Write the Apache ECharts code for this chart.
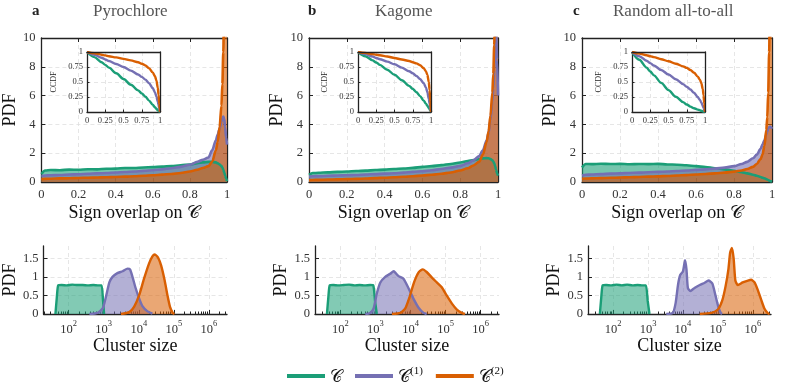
<!DOCTYPE html>
<html><head><meta charset="utf-8">
<script src="https://cdn.jsdelivr.net/npm/echarts@6/dist/echarts.min.js"></script>
<style>html,body{margin:0;padding:0;background:#fff}#c{width:789px;height:382px}</style>
</head><body><div id="c"></div>
<script>
// ---------- data ----------
const panelTitles = ['Pyrochlore', 'Kagome', 'Random all-to-all'];
const panelLetters = ['a', 'b', 'c'];
const seriesNames = ['C', 'C1', 'C2'];

const overlapX = [0,0.02,0.05,0.1,0.15,0.2,0.25,0.3,0.35,0.4,0.45,0.5,0.55,0.6,0.65,0.7,0.75,0.8,0.84,0.87,0.9,0.92,0.94,0.95,0.96,0.97,0.975,0.98,0.985,0.99,0.995,1];
const pdfPyroC  = [0.55,0.8,0.83,0.82,0.86,0.85,0.89,0.88,0.92,0.93,0.97,0.97,1.01,1.03,1.07,1.1,1.16,1.22,1.3,1.36,1.4,1.4,1.36,1.3,1.22,1.1,1.0,0.85,0.65,0.45,0.25,0.05];
const pdfPyroC1 = [0.42,0.45,0.47,0.49,0.52,0.54,0.57,0.6,0.62,0.66,0.69,0.73,0.77,0.82,0.88,0.95,1.05,1.2,1.4,1.55,1.7,2.2,2.9,3.3,3.7,4.2,4.4,4.55,4.4,3.8,3.1,2.6];
const pdfPyroC2 = [0.2,0.22,0.23,0.25,0.26,0.28,0.3,0.31,0.33,0.35,0.37,0.4,0.43,0.47,0.51,0.56,0.63,0.73,0.85,0.97,1.1,1.4,2.2,2.8,3.8,5.3,6.8,9,13,20,26,30];
const pdfKagC  = [0.5,0.62,0.64,0.67,0.7,0.73,0.76,0.79,0.83,0.86,0.9,0.94,0.98,1.05,1.1,1.17,1.25,1.35,1.45,1.52,1.6,1.64,1.66,1.65,1.6,1.5,1.42,1.3,1.1,0.85,0.6,0.45];
const pdfKagC1 = [0.38,0.4,0.41,0.43,0.45,0.47,0.49,0.52,0.55,0.58,0.61,0.65,0.7,0.75,0.82,0.9,1.0,1.12,1.3,1.5,1.8,2.2,2.9,3.4,4.3,5.6,6.5,7.8,9.5,11,8.5,6];
const pdfKagC2 = [0.13,0.14,0.15,0.17,0.18,0.2,0.22,0.24,0.27,0.3,0.33,0.36,0.4,0.45,0.5,0.57,0.66,0.8,0.95,1.15,1.4,1.9,2.8,3.5,4.6,6.2,7.5,9.5,13,20,26,30];
const pdfRandC  = [1.0,1.25,1.24,1.27,1.25,1.26,1.23,1.25,1.24,1.26,1.22,1.2,1.16,1.1,1.04,0.96,0.88,0.78,0.68,0.6,0.5,0.43,0.35,0.3,0.26,0.2,0.17,0.14,0.1,0.07,0.04,0.02];
const pdfRandC1 = [0.45,0.5,0.52,0.55,0.58,0.6,0.63,0.65,0.68,0.7,0.73,0.76,0.8,0.84,0.88,0.93,1.0,1.1,1.25,1.4,1.65,1.9,2.3,2.6,2.9,3.3,3.5,3.7,3.8,3.85,3.8,3.7];
const pdfRandC2 = [0.22,0.24,0.25,0.27,0.29,0.31,0.33,0.35,0.37,0.39,0.42,0.45,0.48,0.52,0.56,0.6,0.65,0.72,0.8,0.9,1.05,1.25,1.6,1.9,2.5,3.6,4.5,6.2,9,14,22,30];

const ccdfX = [0,0.1,0.2,0.25,0.3,0.4,0.5,0.6,0.7,0.75,0.8,0.85,0.9,0.93,0.95,0.97,0.98,0.99,0.995,1];
const ccdfPyroC  = [1,0.915,0.83,0.785,0.74,0.645,0.55,0.455,0.36,0.31,0.255,0.19,0.12,0.08,0.055,0.03,0.02,0.008,0.003,0];
const ccdfPyroC1 = [1,0.955,0.905,0.875,0.85,0.8,0.75,0.69,0.625,0.585,0.54,0.48,0.4,0.33,0.26,0.17,0.12,0.06,0.03,0];
const ccdfPyroC2 = [1,0.98,0.955,0.943,0.93,0.91,0.885,0.86,0.83,0.805,0.775,0.73,0.66,0.6,0.53,0.4,0.29,0.13,0.06,0];
const ccdfKagC  = [1,0.93,0.86,0.825,0.785,0.705,0.62,0.53,0.435,0.385,0.33,0.265,0.19,0.14,0.105,0.065,0.048,0.027,0.013,0];
const ccdfKagC1 = [1,0.965,0.925,0.9,0.88,0.84,0.795,0.74,0.68,0.645,0.6,0.55,0.48,0.41,0.33,0.22,0.14,0.06,0.03,0];
const ccdfKagC2 = [1,0.985,0.965,0.955,0.945,0.925,0.9,0.875,0.85,0.83,0.81,0.78,0.73,0.68,0.62,0.5,0.37,0.17,0.08,0];
const ccdfRandC  = [1,0.87,0.74,0.675,0.61,0.485,0.365,0.255,0.165,0.125,0.09,0.062,0.04,0.028,0.02,0.012,0.008,0.004,0.002,0];
const ccdfRandC1 = [1,0.93,0.855,0.815,0.775,0.7,0.625,0.545,0.465,0.42,0.375,0.32,0.25,0.2,0.16,0.1,0.07,0.035,0.018,0];
const ccdfRandC2 = [1,0.975,0.945,0.93,0.915,0.88,0.845,0.805,0.76,0.735,0.7,0.655,0.59,0.54,0.48,0.38,0.28,0.14,0.07,0];

// cluster size: log10(size) and PDF
const sizePyroC_x  = [1.62,1.66,1.70,1.8,1.95,2.1,2.25,2.4,2.55,2.7,2.85,2.94,2.98,3.01];
const sizePyroC_y  = [0,0.45,0.77,0.78,0.77,0.79,0.78,0.78,0.77,0.78,0.77,0.77,0.35,0];
const sizePyroC1_x = [2.59,2.82,2.97,3.06,3.16,3.25,3.39,3.54,3.68,3.75,3.82,3.91,4.01,4.1,4.25,4.39];
const sizePyroC1_y = [0,0.03,0.15,0.45,0.85,1.0,1.1,1.15,1.22,1.2,1.0,0.7,0.42,0.22,0.07,0.01];
const sizePyroC2_x = [3.49,3.73,3.87,4.01,4.15,4.29,4.39,4.46,4.55,4.64,4.74,4.82,4.89,4.97,5.02];
const sizePyroC2_y = [0,0.05,0.2,0.5,0.95,1.35,1.55,1.6,1.52,1.3,0.9,0.5,0.2,0.03,0];
const sizeKagC_x  = [1.62,1.66,1.70,1.8,1.95,2.1,2.25,2.4,2.55,2.7,2.85,2.94,2.99,3.04];
const sizeKagC_y  = [0,0.45,0.77,0.78,0.77,0.78,0.79,0.77,0.78,0.77,0.78,0.77,0.35,0];
const sizeKagC1_x = [2.71,2.85,2.95,3.04,3.14,3.28,3.42,3.52,3.56,3.66,3.8,3.94,4.09,4.23,4.37,4.46];
const sizeKagC1_y = [0,0.03,0.15,0.55,0.85,1.0,1.08,1.15,1.12,1.02,0.95,0.7,0.4,0.17,0.03,0];
const sizeKagC2_x = [3.47,3.71,3.85,3.97,4.1,4.23,4.35,4.46,4.61,4.75,4.89,5.03,5.18,5.32,5.46,5.55];
const sizeKagC2_y = [0,0.03,0.15,0.45,0.85,1.12,1.2,1.13,0.98,0.85,0.72,0.5,0.28,0.12,0.03,0];
const sizeRandC_x  = [1.62,1.66,1.70,1.8,1.95,2.1,2.25,2.4,2.55,2.7,2.85,2.94,2.99,3.04];
const sizeRandC_y  = [0,0.45,0.77,0.78,0.77,0.79,0.77,0.79,0.77,0.78,0.77,0.77,0.35,0];
const sizeRandC1_x = [3.52,3.71,3.79,3.86,3.92,4.0,4.06,4.1,4.14,4.21,4.33,4.48,4.62,4.73,4.84,4.93,5.01,5.08,5.12];
const sizeRandC1_y = [0,0.03,0.3,0.8,1.05,1.15,1.45,1.2,0.7,0.62,0.7,0.78,0.84,0.9,0.82,0.5,0.2,0.03,0];
const sizeRandC2_x = [4.48,4.81,5.0,5.12,5.22,5.3,5.35,5.4,5.45,5.5,5.57,5.71,5.86,5.95,6.05,6.14,6.24,6.33,6.43,6.48];
const sizeRandC2_y = [0,0.03,0.12,0.35,0.75,1.2,1.65,1.78,1.5,0.9,0.78,0.85,0.9,0.92,0.85,0.65,0.38,0.15,0.02,0];

const sizeTickExps = [2,3,4,5,6];

// ---------- layout / style ----------
const FONT = 'Liberation Serif';
const COLORS = ['#1b9e77', '#7570b3', '#d95f02'];
const AXC = '#222';
const layout = [
  {topL:37, topW:190, insL:87, insW:73, botL:42, botW:185, letterL:27, titleL:88},
  {topL:309, topW:189, insL:358, insW:73, botL:315, botW:184, letterL:303, titleL:370},
  {topL:582, topW:190, insL:632, insW:73, botL:588, botW:183, letterL:568, titleL:608}
];
const pdfSets = [[pdfPyroC,pdfPyroC1,pdfPyroC2],[pdfKagC,pdfKagC1,pdfKagC2],[pdfRandC,pdfRandC1,pdfRandC2]];
const ccdfSets = [[ccdfPyroC,ccdfPyroC1,ccdfPyroC2],[ccdfKagC,ccdfKagC1,ccdfKagC2],[ccdfRandC,ccdfRandC1,ccdfRandC2]];
const sizeSets = [
  [[sizePyroC_x,sizePyroC_y],[sizePyroC1_x,sizePyroC1_y],[sizePyroC2_x,sizePyroC2_y]],
  [[sizeKagC_x,sizeKagC_y],[sizeKagC1_x,sizeKagC1_y],[sizeKagC2_x,sizeKagC2_y]],
  [[sizeRandC_x,sizeRandC_y],[sizeRandC1_x,sizeRandC1_y],[sizeRandC2_x,sizeRandC2_y]]
];

const minorTicks = [];
for (let e = 1; e <= 6; e++) for (let k = 2; k <= 9; k++) {
  const v = e + Math.log10(k);
  if (v > 1.28 && v < 6.52) minorTicks.push(v);
}

const option = {animation:false, textStyle:{fontFamily:FONT}, title:[], grid:[], xAxis:[], yAxis:[], series:[]};
const dashed = {show:true, lineStyle:{color:'#e0e0e0', type:[4,3], width:0.8}};
const axLine = {show:true, onZero:false, lineStyle:{color:AXC, width:1.3}};
const lblStyle = (fs, m) => ({fontSize:fs, color:'#333', margin:m, fontFamily:FONT});

function addGrid(g){ option.grid.push(g); return option.grid.length-1; }
function addX(a){ option.xAxis.push(a); return option.xAxis.length-1; }
function addY(a){ option.yAxis.push(a); return option.yAxis.length-1; }

layout.forEach((L, p) => {
  option.title.push({text:panelLetters[p], left:L.letterL, top:-1, textStyle:{fontSize:15, fontWeight:'bold', color:'#222', fontFamily:FONT}});
  option.title.push({text:panelTitles[p], left:L.titleL, top:-2, textStyle:{fontSize:17, fontWeight:'normal', color:'#555', fontFamily:FONT}});

  // ---- top PDF panel ----
  const g = addGrid({left:L.topL, top:38, width:L.topW, height:144});
  const xi = addX({gridIndex:g, type:'value', min:0, max:1, interval:0.2, position:'bottom',
    axisLine:axLine, axisTick:{inside:true, length:4, lineStyle:{color:AXC}}, axisLabel:lblStyle(12.5,6),
    splitLine:dashed, name:'Sign overlap on 𝒞', nameLocation:'middle', nameGap:22,
    nameTextStyle:{fontSize:18, color:'#111', fontFamily:FONT}});
  addX({gridIndex:g, type:'value', min:0, max:1, interval:0.2, position:'top',
    axisLine:axLine, axisTick:{inside:true, length:4, lineStyle:{color:AXC}}, axisLabel:{show:false}, splitLine:{show:false}});
  const yi = addY({gridIndex:g, type:'value', min:0, max:10, interval:2, position:'left',
    axisLine:axLine, axisTick:{inside:true, length:4, lineStyle:{color:AXC}}, axisLabel:lblStyle(12.5,6),
    splitLine:dashed, name:'PDF', nameLocation:'middle', nameGap:17,
    nameTextStyle:{fontSize:18, color:'#111', fontFamily:FONT}});
  addY({gridIndex:g, type:'value', min:0, max:10, interval:2, position:'right',
    axisLine:axLine, axisTick:{inside:true, length:4, lineStyle:{color:AXC}}, axisLabel:{show:false}, splitLine:{show:false}});
  pdfSets[p].forEach((arr, s) => {
    option.series.push({type:'line', name:seriesNames[s], xAxisIndex:xi, yAxisIndex:yi,
      data: overlapX.map((x,i)=>[x, arr[i]]), showSymbol:false, smooth:0.3, smoothMonotone:'x', clip:true,
      itemStyle:{color:COLORS[s]}, lineStyle:{color:COLORS[s], width:2.6},
      areaStyle:{color:COLORS[s], opacity:0.6}, z:2});
  });

  // ---- inset CCDF ----
  const gi = addGrid({left:L.insL, top:52, width:L.insW, height:60, show:true, backgroundColor:'#fff', borderWidth:0, z:3});
  const ixi = addX({gridIndex:gi, type:'value', min:0, max:1, interval:0.25, z:4,
    axisLine:axLine, axisTick:{inside:true, length:2.5, lineStyle:{color:AXC}},
    axisLabel:lblStyle(8.5,4), splitLine:dashed});
  addX({gridIndex:gi, type:'value', min:0, max:1, interval:0.25, z:6, position:'top',
    axisLine:axLine, axisTick:{show:false}, axisLabel:{show:false}, splitLine:{show:false}});
  const iyi = addY({gridIndex:gi, type:'value', min:0, max:1, interval:0.25, z:4,
    axisLine:axLine, axisTick:{inside:true, length:2.5, lineStyle:{color:AXC}},
    axisLabel:lblStyle(8.5,4), splitLine:dashed, name:'CCDF', nameLocation:'middle', nameGap:29,
    nameTextStyle:{fontSize:8, color:'#222', fontFamily:FONT}});
  addY({gridIndex:gi, type:'value', min:0, max:1, interval:0.25, z:6, position:'right',
    axisLine:axLine, axisTick:{show:false}, axisLabel:{show:false}, splitLine:{show:false}});
  ccdfSets[p].forEach((arr, s) => {
    option.series.push({type:'line', name:seriesNames[s], xAxisIndex:ixi, yAxisIndex:iyi,
      data: ccdfX.map((x,i)=>[x, arr[i]]), showSymbol:false, smooth:0.3, smoothMonotone:'x',
      itemStyle:{color:COLORS[s]}, lineStyle:{color:COLORS[s], width:2.4}, z:5});
  });

  // ---- bottom cluster size panel ----
  const gb = addGrid({left:L.botL, top:246, width:L.botW, height:68});
  const bxi = addX({gridIndex:gb, type:'value', min:1.28, max:6.52, position:'bottom',
    axisLine:axLine, axisTick:{inside:true, length:4, customValues:sizeTickExps, lineStyle:{color:AXC}},
    axisLabel:{customValues:sizeTickExps, margin:5, color:'#333', fontFamily:FONT,
      formatter:(v)=>'{b|10}{s|'+Math.round(v)+'}',
      rich:{b:{fontSize:12.5, lineHeight:17, verticalAlign:'bottom', color:'#333', fontFamily:FONT},
            s:{fontSize:8.5, lineHeight:10, verticalAlign:'top', color:'#333', fontFamily:FONT}}},
    splitLine:dashed, name:'Cluster size', nameLocation:'middle', nameGap:23,
    nameTextStyle:{fontSize:18, color:'#111', fontFamily:FONT}});
  addX({gridIndex:gb, type:'value', min:1.28, max:6.52, position:'bottom',
    axisLine:{show:false}, axisTick:{inside:true, length:2.5, customValues:minorTicks, lineStyle:{color:AXC}},
    axisLabel:{show:false}, splitLine:{show:false}});
  const byi = addY({gridIndex:gb, type:'value', min:0, max:1.83, position:'left',
    axisLine:axLine, axisTick:{inside:true, length:4, customValues:[0,0.5,1,1.5], lineStyle:{color:AXC}},
    axisLabel:Object.assign(lblStyle(12.5,5), {customValues:[0,0.5,1,1.5]}),
    splitLine:dashed, name:'PDF', nameLocation:'middle', nameGap:20,
    nameTextStyle:{fontSize:18, color:'#111', fontFamily:FONT}});
  sizeSets[p].forEach((pair, s) => {
    option.series.push({type:'line', name:seriesNames[s], xAxisIndex:bxi, yAxisIndex:byi,
      data: pair[0].map((x,i)=>[x, pair[1][i]]), showSymbol:false, smooth:0.2,
      itemStyle:{color:COLORS[s]}, lineStyle:{color:COLORS[s], width:2.4},
      areaStyle:{color:COLORS[s], opacity:0.55}, z:2});
  });
});

option.legend = {left:282, top:361, icon:'rect', itemWidth:38, itemHeight:4, itemGap:13,
  data:seriesNames,
  formatter:(n)=> n==='C' ? '{m|𝒞}' : (n==='C1' ? '{m|𝒞}{s|(1)}' : '{m|𝒞}{s|(2)}'),
  textStyle:{fontFamily:FONT, color:'#111', rich:{
    m:{fontSize:17, lineHeight:20, verticalAlign:'bottom', fontFamily:FONT, color:'#111'},
    s:{fontSize:11, lineHeight:12, verticalAlign:'top', fontFamily:FONT, color:'#111'}}}};

const chart = echarts.init(document.getElementById('c'), null, {renderer:'canvas'});
chart.setOption(option);
</script></body></html>
